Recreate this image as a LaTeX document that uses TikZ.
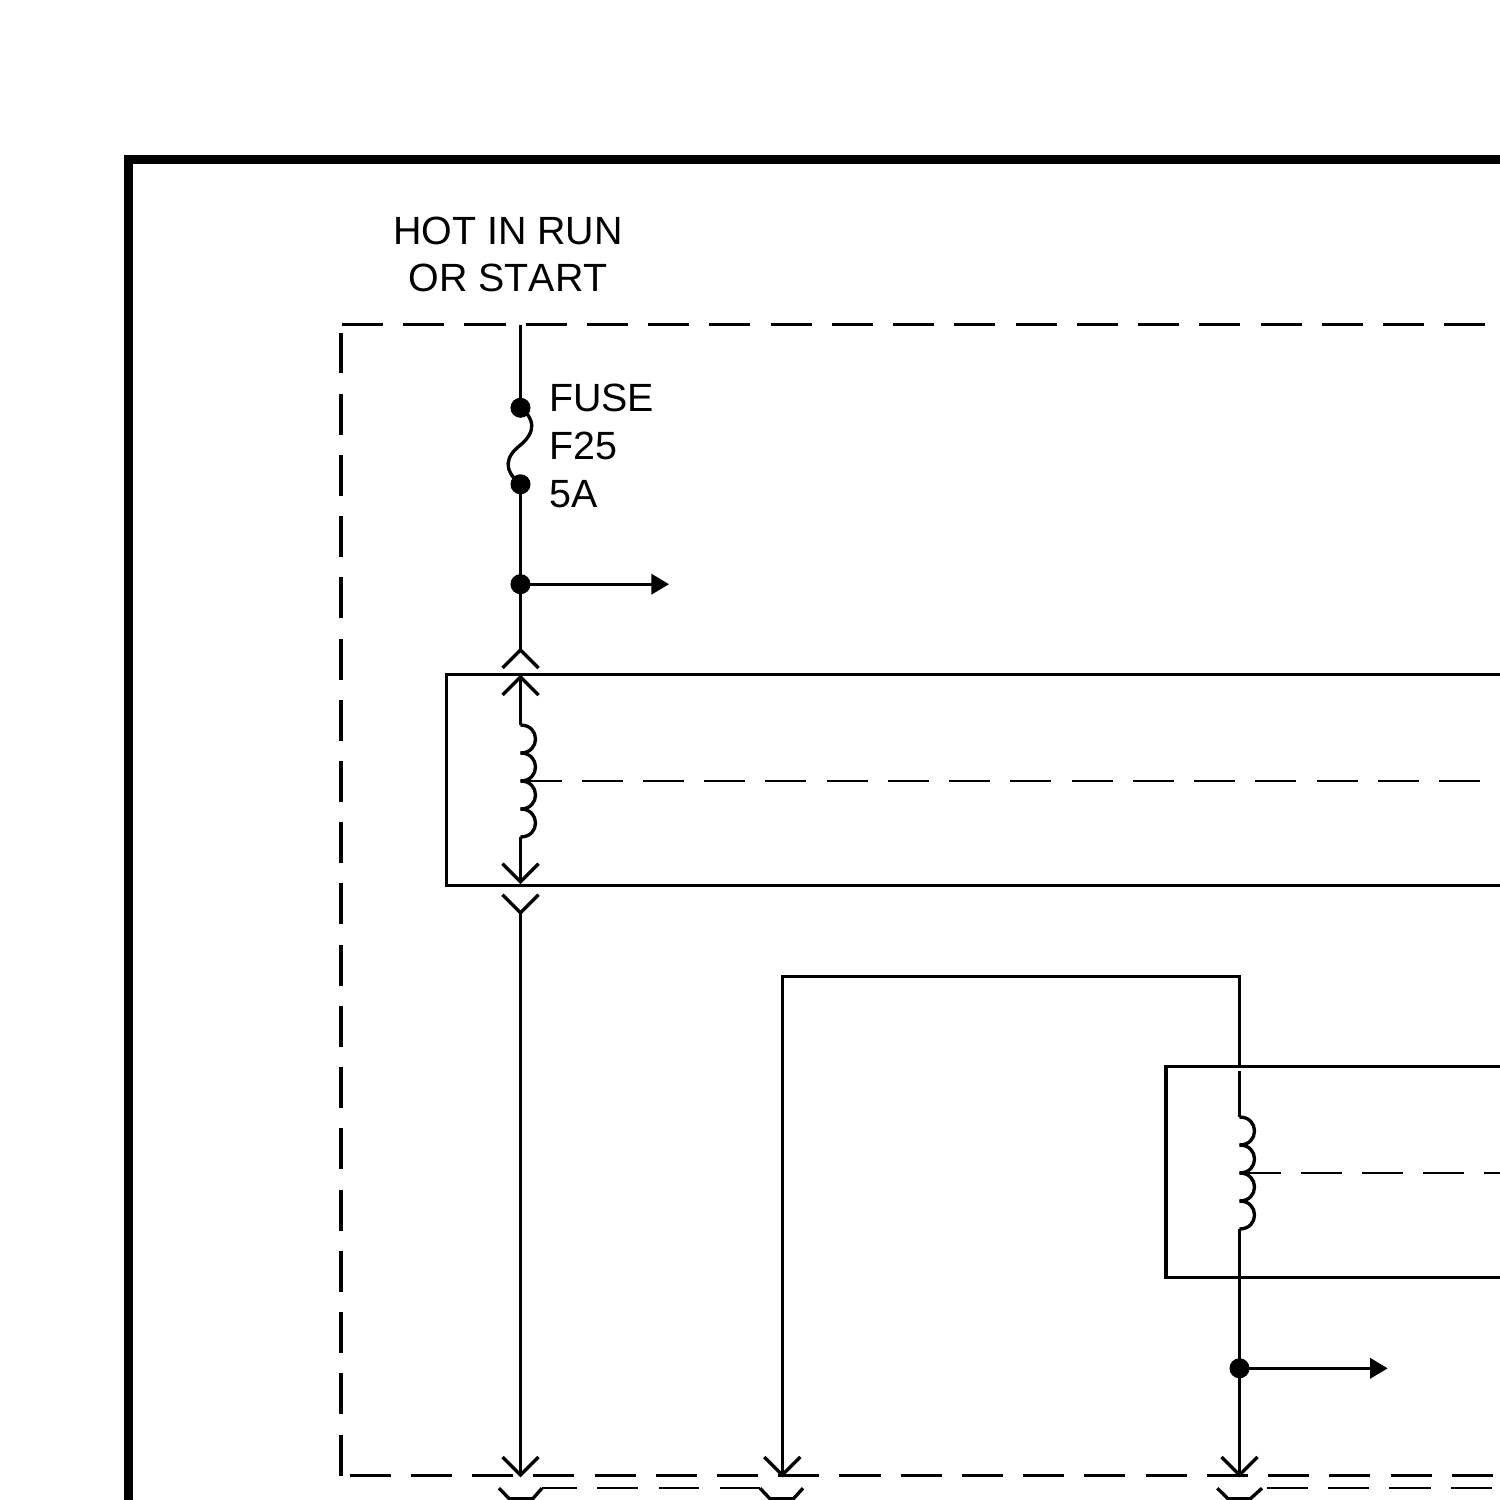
\documentclass[tikz,border=0pt]{standalone}
\usepackage{fontspec}
\setmainfont[Kerning=Off]{Liberation Sans}
\usetikzlibrary{arrows.meta}

\begin{document}
\begin{tikzpicture}[x=0.01cm,y=-0.01cm]
	 \tikzstyle{wire} = [draw,line width=0.95pt,-,black]
	 \tikzstyle{thin wire} = [draw,line width=0.5pt,-,black]
	 \tikzstyle{frame} = [draw,line width=2.56pt,-,black]
	 \tikzstyle{long dash} = [dash pattern=on 0.41cm off 0.202cm]
	 \tikzstyle{branch} = [wire,-{Triangle[length=5pt,width=5.7pt]}]
	 \tikzstyle{dot} = [circle,fill=black,minimum size=5.7pt,inner sep=0pt,outer sep=0pt]
	 \tikzstyle{label} = [inner sep=0pt,font=\fontsize{11.2pt}{13.4pt}\selectfont]
	 \useasboundingbox (0,0) rectangle (1500,1500);
	 \clip (0,0) rectangle (1500,1500);
	 % outer frame and dashed module outline
	 \draw[frame] (1510,159.8) -- (128.7,159.8) -- (128.7,1510);
	 \draw[wire,long dash] (342,324.5) -- (1510,324.5);
	 \draw[wire,long dash] (341,1475.6) -- (341,333);
	 \draw[wire,long dash] (349.6,1475.6) -- (1510,1475.6);
	 % labels
	 \node[label,align=center,anchor=north] (hot) at (508,216.5) {HOT IN RUN\\OR START};
	 \node[label,align=left,anchor=north west] (fuse) at (548.5,383.5) {FUSE\\[0.2pt]F25\\[0.2pt]5A};
	 % wire 1
	 \coordinate (in) at (520.5,324.5);
	 \node[dot] (d1) at (520.5,407.8) {};
	 \node[dot] (d2) at (520.5,484.3) {};
	 \node[dot] (d3) at (520.5,584.2) {};
	 \coordinate (out1) at (669,584.2);
	 \coordinate (j1) at (520.5,650);
	 \coordinate (j2) at (520.5,677);
	 \coordinate (c10) at (520.5,725);
	 \coordinate (c11) at (520.5,753);
	 \coordinate (c12) at (520.5,781);
	 \coordinate (c13) at (520.5,809);
	 \coordinate (c14) at (520.5,837);
	 \coordinate (j3) at (520.5,881.7);
	 \coordinate (j4) at (520.5,912.7);
	 \coordinate (j5) at (520.5,1475);
	 \draw[wire] (in) -- (d1.center);
	 \draw[wire] (d1.center) .. controls (534,418) and (537,431) .. (520.5,445) .. controls (505,457) and (503,470) .. (d2.center);
	 \draw[wire] (d2.center) -- (d3.center);
	 \draw[branch] (d3.center) -- (out1);
	 \draw[wire] (d3.center) -- (j1);
	 \draw[wire] (j2) -- (c10);
	 \draw[wire] (c14) -- (j3);
	 \draw[wire] (j4) -- (j5);
	 \draw[wire] (446.7,674.7) rectangle (1510,885.7);
	 \foreach \a/\b in {c10/c11,c11/c12,c12/c13,c13/c14} {
		 \draw[wire] (\a) .. controls +(20,0) and +(20,0) .. (\b);
	 }
	 \draw[thin wire,long dash] (c12) -- (1510,781);
	 % wire 2
	 \coordinate (j6) at (782.3,1475);
	 \coordinate (tr) at (782.3,976.5);
	 \coordinate (tc) at (1239.5,976.5);
	 \coordinate (tb) at (1239.5,1066);
	 \coordinate (bt) at (1239.5,1070.5);
	 \coordinate (c20) at (1239.5,1117);
	 \coordinate (c21) at (1239.5,1145);
	 \coordinate (c22) at (1239.5,1173);
	 \coordinate (c23) at (1239.5,1201);
	 \coordinate (c24) at (1239.5,1229);
	 \node[dot] (d4) at (1239.5,1368.3) {};
	 \coordinate (out2) at (1387.7,1368.3);
	 \coordinate (j7) at (1239.5,1475);
	 \draw[wire] (j6) -- (tr) -- (tc) -- (tb);
	 \draw[wire] (bt) -- (c20);
	 \draw[wire] (c24) -- (d4.center);
	 \draw[branch] (d4.center) -- (out2);
	 \draw[wire] (d4.center) -- (j7);
	 \draw[wire] (1166,1066.7) rectangle (1510,1277.3);
	 \foreach \a/\b in {c20/c21,c21/c22,c22/c23,c23/c24} {
		 \draw[wire] (\a) .. controls +(20,0) and +(20,0) .. (\b);
	 }
	 \draw[thin wire,long dash] (c22) -- (1510,1173);
	 % connector halves
	 \foreach \j in {j1,j2} {
		 \draw[wire] (\j) +(-18,18) -- (\j) -- +(18,18);
	 }
	 \foreach \j in {j3,j4,j5,j6,j7} {
		 \draw[wire] (\j) +(-18,-18) -- (\j) -- +(18,-18);
	 }
	 % lower connector row
	 \coordinate (p1) at (499,1488.2);
	 \coordinate (p2) at (720,1488.2);
	 \coordinate (p3) at (1217.3,1488.2);
	 \draw[wire] (p1) -- ++(10.3,10.6) -- ++(23.4,0) -- ++(9.3,-10.6);
	 \draw[thin wire] (542,1488.2) -- (577,1488.2);
	 \draw[thin wire] (597.3,1488.2) -- (638,1488.2);
	 \draw[thin wire] (658.7,1488.2) -- (699,1488.2);
	 \draw[thin wire] (p2) -- (760,1488.2);
	 \draw[wire] (760,1488.2) -- ++(10,10.6) -- ++(23.4,0) -- ++(9.6,-10.6);
	 \draw[wire] (p3) -- ++(10.7,10.6) -- ++(22.3,0) -- ++(11.7,-10.6);
	 \draw[thin wire,long dash] (1267,1488.2) -- (1510,1488.2);
\end{tikzpicture}
\end{document}
